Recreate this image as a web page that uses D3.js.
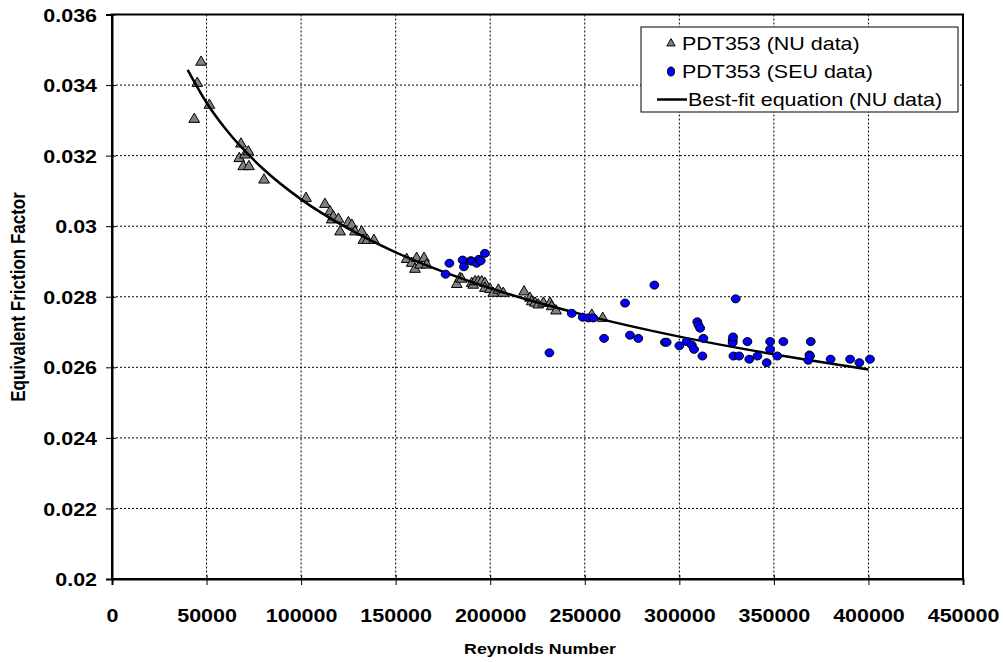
<!DOCTYPE html>
<html>
<head>
<meta charset="utf-8">
<script src="https://cdnjs.cloudflare.com/ajax/libs/d3/7.8.5/d3.min.js"></script>
<style>
  body { margin: 0; background: #fff; }
  svg { font-family: "Liberation Sans", Arial, sans-serif; }
  .tick text { font-weight: bold; font-size: 18.5px; fill: #000; font-family: "Liberation Sans", Arial, sans-serif; }
  .grid line { stroke: #000; stroke-dasharray: 2,2; stroke-width: 1; }
</style>
</head>
<body>
<svg id="chart" width="1003" height="662"></svg>
<script>
// NU data (triangles): Reynolds number, friction factor
var nuRe = [43500, 45100, 47100, 51500, 67300, 68200, 69400, 70300, 72100, 72400, 80400, 102600,
    112600, 115300, 116200, 117000, 119700, 120600, 125000, 126800, 128500, 132000, 132900, 135000, 138500,
    155800, 158500, 160200, 161100, 162900, 165000, 166400,
    182300, 184000, 184900, 190200, 191000, 192000, 193700, 195500, 197200, 197200, 199900, 201600, 204300, 206900,
    217900, 221000, 221900, 223700, 225400, 228100, 231600, 232500, 234800, 253700, 259500];
var nuF = [0.03303, 0.03405, 0.03465, 0.03343, 0.03192, 0.03233, 0.03169, 0.03202, 0.03211, 0.03169, 0.03131, 0.03079,
    0.03062, 0.03041, 0.03018, 0.03027, 0.03020, 0.02984, 0.03010, 0.03003, 0.02984, 0.02984, 0.02960, 0.02960, 0.02960,
    0.02906, 0.02895, 0.02878, 0.02909, 0.02890, 0.02909, 0.02890,
    0.02835, 0.02852, 0.02850, 0.02838, 0.02833, 0.02843, 0.02843, 0.02843, 0.02838, 0.02824, 0.02821, 0.02810, 0.02819, 0.02810,
    0.02814, 0.02796, 0.02786, 0.02782, 0.02777, 0.02782, 0.02782, 0.02772, 0.02760, 0.02748, 0.02739];

// SEU data (circles)
var seuRe = [176400, 178400, 185400, 186100, 189700, 190200, 192800, 194000, 195000, 197200,
    231300, 243100, 248900, 251900, 254500, 260200, 271300, 273900, 278300, 286800,
    292400, 293300, 300000, 303900, 306600, 307800, 309500, 310100, 311000, 312700, 312200,
    328200, 328200, 328400, 328600, 329800, 331600, 336000, 337000, 341300, 346200, 348000, 348000, 351800, 355000,
    368200, 368800, 369100, 369500, 380000, 390300, 395200, 400800];
var seuF = [0.02864, 0.02895, 0.02904, 0.02885, 0.02902, 0.02901, 0.02895, 0.02906, 0.02902, 0.02923,
    0.02641, 0.02753, 0.02742, 0.02740, 0.02740, 0.02682, 0.02782, 0.02691, 0.02682, 0.02833,
    0.02671, 0.02671, 0.02661, 0.02673, 0.02663, 0.02651, 0.02729, 0.02720, 0.02711, 0.02682, 0.02632,
    0.02677, 0.02670, 0.02686, 0.02632, 0.02794, 0.02632, 0.02673, 0.02623, 0.02632, 0.02613, 0.02673, 0.02651, 0.02632, 0.02673,
    0.02620, 0.02635, 0.02632, 0.02673, 0.02623, 0.02623, 0.02613, 0.02623];

// best-fit line
var fitRe = [40000, 50000, 60000, 80000, 100000, 125000, 150000, 175000, 200000, 250000, 300000, 350000, 400000];
var fitF = [0.03443, 0.03350, 0.03276, 0.03162, 0.03076, 0.02993, 0.02926, 0.02871, 0.02824, 0.02748, 0.02687, 0.02637, 0.02594];

var xTicks = [0, 50000, 100000, 150000, 200000, 250000, 300000, 350000, 400000, 450000];
var yTicks = [0.02, 0.022, 0.024, 0.026, 0.028, 0.03, 0.032, 0.034, 0.036];

var legendLabels = ["PDT353 (NU data)", "PDT353 (SEU data)", "Best-fit equation (NU data)"];

// the original text is a little wider than Arial
var stretch = 1.16;
function widen(sel) {
    sel.each(function () {
        var w = this.getComputedTextLength();
        d3.select(this).attr("textLength", w * stretch).attr("lengthAdjust", "spacingAndGlyphs");
    });
}

var svg = d3.select("#chart"),
    margin = {top: 14.5, right: 40, bottom: 83, left: 112},
    width = +svg.attr("width") - margin.left - margin.right,
    height = +svg.attr("height") - margin.top - margin.bottom,
    g = svg.append("g").attr("transform", "translate(" + margin.left + "," + margin.top + ")");

var x = d3.scaleLinear().domain([0, 450000]).range([0, width]);
var y = d3.scaleLinear().domain([0.02, 0.036]).range([height, 0]);

// gridlines
g.append("g")
    .attr("class", "grid")
    .selectAll("line")
    .data(xTicks.slice(1, -1))
    .enter().append("line")
    .attr("x1", function (d) { return x(d); })
    .attr("x2", function (d) { return x(d); })
    .attr("y1", 0)
    .attr("y2", height);

g.append("g")
    .attr("class", "grid")
    .selectAll("line")
    .data(yTicks.slice(1, -1))
    .enter().append("line")
    .attr("x1", 0)
    .attr("x2", width)
    .attr("y1", function (d) { return y(d); })
    .attr("y2", function (d) { return y(d); });

// frame
g.append("rect")
    .attr("width", width)
    .attr("height", height)
    .attr("fill", "none")
    .attr("stroke", "#000")
    .attr("stroke-width", 2);

// axes
var yAxis = g.append("g")
    .call(d3.axisLeft(y).tickValues(yTicks).tickSize(6).tickFormat(function (d) { return d3.format("")(+d.toFixed(3)); }));
yAxis.select(".domain").attr("stroke-width", 2);
yAxis.selectAll(".tick text").attr("x", -15).attr("dy", "0.36em").call(widen);
yAxis.selectAll(".tick line").attr("x2", -6).attr("x1", 4);

var xAxis = g.append("g")
    .attr("transform", "translate(0," + height + ")")
    .call(d3.axisBottom(x).tickValues(xTicks).tickSize(6).tickFormat(d3.format("d")));
xAxis.select(".domain").attr("stroke-width", 2);
xAxis.selectAll(".tick text").attr("y", 42.5).attr("dy", 0).call(widen);
xAxis.selectAll(".tick line").attr("y1", -4);

// fit line
var line = d3.line()
    .curve(d3.curveMonotoneX)
    .x(function (d, i) { return x(fitRe[i]); })
    .y(function (d) { return y(d); });

// markers
var tri = d3.symbol().type(d3.symbolTriangle).size(50);

g.append("g")
    .selectAll("path")
    .data(nuF)
    .enter().append("path")
    .attr("d", tri)
    .attr("transform", function (d, i) { return "translate(" + x(nuRe[i]) + "," + y(d) + ")"; })
    .attr("fill", "#808080")
    .attr("stroke", "#000")
    .attr("stroke-width", 1);

g.append("path")
    .datum(fitF)
    .attr("d", line)
    .attr("fill", "none")
    .attr("stroke", "#000")
    .attr("stroke-width", 2.5);

g.append("g")
    .selectAll("ellipse")
    .data(seuF)
    .enter().append("ellipse")
    .attr("cx", function (d, i) { return x(seuRe[i]); })
    .attr("cy", function (d) { return y(d); })
    .attr("rx", 4.4)
    .attr("ry", 4)
    .attr("fill", "#0000ff")
    .attr("stroke", "#000")
    .attr("stroke-width", 1);

// axis titles
svg.append("text")
    .attr("x", 540)
    .attr("y", 654)
    .attr("text-anchor", "middle")
    .attr("font-weight", "bold")
    .attr("font-size", 15.3)
    .text("Reynolds Number")
    .call(widen);

svg.append("text")
    .attr("transform", "translate(25,297) scale(" + stretch + ",1) rotate(-90)")
    .attr("text-anchor", "middle")
    .attr("font-weight", "bold")
    .attr("font-size", 17)
    .text("Equivalent Friction Factor");

// legend
var legend = svg.append("g").attr("transform", "translate(641,27)");
legend.append("rect")
    .attr("width", 317)
    .attr("height", 85)
    .attr("fill", "#fff")
    .attr("stroke", "#000")
    .attr("stroke-width", 1);

var items = legend.selectAll("g.item")
    .data(legendLabels)
    .enter().append("g")
    .attr("class", "item")
    .attr("transform", function (d, i) { return "translate(0," + (16.5 + i * 28) + ")"; });

items.filter(function (d, i) { return i === 0; })
    .append("path")
    .attr("d", d3.symbol().type(d3.symbolTriangle).size(30))
    .attr("transform", "translate(30,0)")
    .attr("fill", "#808080")
    .attr("stroke", "#000");

items.filter(function (d, i) { return i === 1; })
    .append("ellipse")
    .attr("cx", 30).attr("cy", 0).attr("rx", 3.5).attr("ry", 4.5)
    .attr("fill", "#0000ff")
    .attr("stroke", "#000");

items.filter(function (d, i) { return i === 2; })
    .append("line")
    .attr("x1", 16).attr("x2", 46)
    .attr("stroke", "#000")
    .attr("stroke-width", 2.5);

items.append("text")
    .attr("x", function (d, i) { return i === 2 ? 47 : 41; })
    .attr("dy", "0.36em")
    .attr("font-size", 18.5)
    .text(function (d) { return d; })
    .call(widen);
</script>
</body>
</html>
